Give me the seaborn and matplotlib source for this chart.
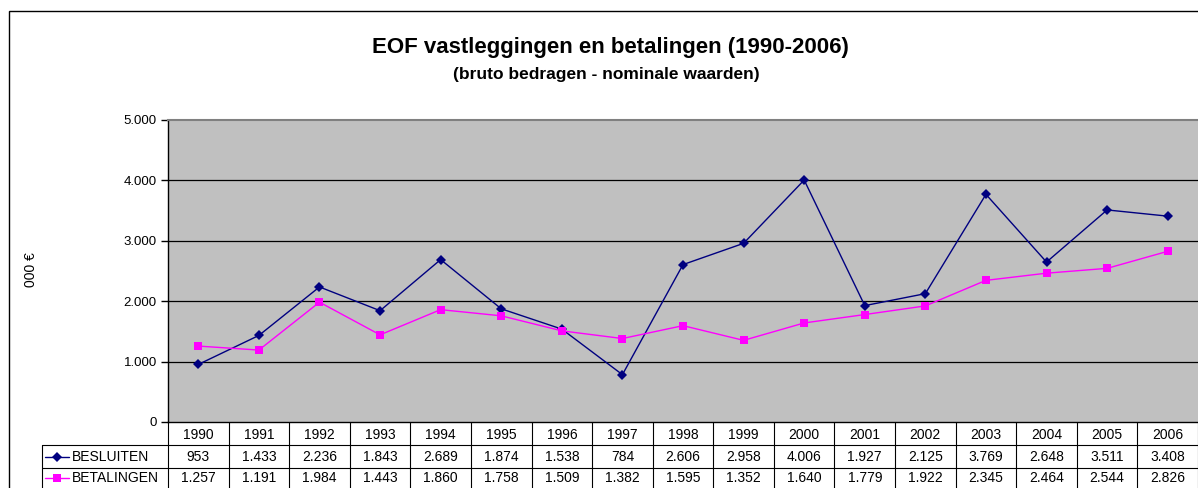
import matplotlib
matplotlib.use("Agg")
import matplotlib.pyplot as plt
import matplotlib.transforms as mtransforms
from matplotlib.lines import Line2D
from matplotlib.patches import Rectangle
import seaborn as sns
import pandas as pd

years = [str(y) for y in range(1990, 2007)]
besluiten = [953, 1433, 2236, 1843, 2689, 1874, 1538, 784, 2606, 2958,
             4006, 1927, 2125, 3769, 2648, 3511, 3408]
betalingen = [1257, 1191, 1984, 1443, 1860, 1758, 1509, 1382, 1595, 1352,
              1640, 1779, 1922, 2345, 2464, 2544, 2826]
series_names = ["BESLUITEN", "BETALINGEN"]
y_ticks = [0, 1000, 2000, 3000, 4000, 5000]
title = "EOF vastleggingen en betalingen (1990-2006)"
subtitle = "(bruto bedragen - nominale waarden)"
ylabel = "000 €"

def fmt(v):
    return f"{v:,}".replace(",", ".")

df = pd.DataFrame({
    "year": years * 2,
    "pos": list(range(len(years))) * 2,
    "value": besluiten + betalingen,
    "series": [series_names[0]] * len(years) + [series_names[1]] * len(years),
})

sns.set_theme(style="white")
plt.rcParams["font.family"] = ["Liberation Sans", "DejaVu Sans"]
plt.rcParams["text.color"] = "black"
plt.rcParams["axes.labelcolor"] = "black"
plt.rcParams["xtick.color"] = "black"
plt.rcParams["ytick.color"] = "black"

W, H = 1198, 488
fig = plt.figure(figsize=(W / 100, H / 100), dpi=100)
fig.patch.set_facecolor("white")

# outer chart border
fig.patches.append(Rectangle((9 / W, -0.05), 1.2, (H - 11) / H + 0.05,
                             transform=fig.transFigure, fill=False,
                             edgecolor="black", linewidth=1.0, zorder=0))

left, right, top, bottom = 168, 1198, 120, 422
ax = fig.add_axes([left / W, (H - bottom) / H, (right - left) / W, (bottom - top) / H])
ax.set_facecolor("#C0C0C0")

palette = {"BESLUITEN": "#000080", "BETALINGEN": "#FF00FF"}
markers = {"BESLUITEN": "D", "BETALINGEN": "s"}
sns.lineplot(data=df, x="pos", y="value", hue="series", style="series",
             palette=palette, markers=markers, dashes=False, ax=ax,
             linewidth=1.0, markersize=5, markeredgewidth=0, legend=False,
             zorder=3)
for line in ax.get_lines():
    if line.get_marker() == "s":
        line.set_markersize(6)
    elif line.get_marker() == "D":
        line.set_markersize(5)

ax.set_xlim(-0.5, len(years) - 0.5)
ax.set_ylim(0, 5000)
ax.set_yticks(y_ticks)
ax.set_yticklabels([fmt(v) for v in y_ticks], fontsize=9.5, color="black")
ax.set_xticks([])
ax.set_xlabel("")
ax.set_ylabel("")
for v in y_ticks[1:-1]:
    ax.axhline(v, color="black", linewidth=0.9, zorder=1)
ax.tick_params(axis="y", direction="out", length=5, width=1, color="black",
               labelcolor="black", pad=3, left=True)
ax.spines["right"].set_visible(False)
ax.spines["top"].set_color("#808080")
ax.spines["top"].set_linewidth(1.5)
ax.spines["left"].set_color("black")
ax.spines["bottom"].set_color("black")
ax.spines["left"].set_linewidth(1.0)
ax.spines["bottom"].set_linewidth(1.0)

fig.text(0.5 * (366 + 855) / W, 1 - 47 / H, title, ha="center", va="center",
         fontsize=16, fontweight="bold", color="black")
fig.text(0.5 * (447 + 765) / W, 1 - 75 / H, subtitle, ha="center", va="center",
         fontsize=12.5, fontweight="bold", color="black")
fig.text(31 / W, 1 - 270 / H, ylabel, ha="center", va="center",
         rotation=90, fontsize=10, color="black")

# data table below the plot
trans = mtransforms.blended_transform_factory(ax.transData, fig.transFigure)
row_y = [bottom, 445, 468, H + 2]
def fy(p):
    return 1 - p / H
row_centers = [fy(435), fy(457), fy(478)]
n = len(years)
lw = 0.8
tfs = 10
for i, yr in enumerate(years):
    ax.text(i, row_centers[0], yr, transform=trans, ha="center", va="center",
            fontsize=tfs, clip_on=False, color="black")
    ax.text(i, row_centers[1], fmt(besluiten[i]), transform=trans, ha="center",
            va="center", fontsize=tfs, clip_on=False, color="black")
    ax.text(i, row_centers[2], fmt(betalingen[i]), transform=trans, ha="center",
            va="center", fontsize=tfs, clip_on=False, color="black")
for k in range(n + 1):
    fig.add_artist(Line2D([k - 0.5, k - 0.5], [fy(row_y[0]), fy(row_y[3])],
                          transform=trans, color="black", linewidth=lw))
for yy in row_y[1:3]:
    fig.add_artist(Line2D([42 / W, 1.0], [fy(yy), fy(yy)],
                          transform=fig.transFigure, color="black", linewidth=lw))
fig.add_artist(Line2D([42 / W, 42 / W], [fy(row_y[1]), fy(row_y[3])],
                      transform=fig.transFigure, color="black", linewidth=lw))

# legend keys inside the label cells
for j, name in enumerate(series_names):
    yc = row_centers[j + 1]
    fig.add_artist(Line2D([45 / W, 69 / W], [yc, yc], transform=fig.transFigure,
                          color=palette[name], linewidth=1.0))
    fig.add_artist(Line2D([57 / W], [yc], transform=fig.transFigure,
                          color=palette[name], marker=markers[name],
                          markersize=5 if name == "BESLUITEN" else 6,
                          markeredgewidth=0, linestyle="none"))
    fig.text(72 / W, yc, name, ha="left", va="center", fontsize=tfs, color="black")

fig.savefig("out.png", dpi=100, facecolor="white")
